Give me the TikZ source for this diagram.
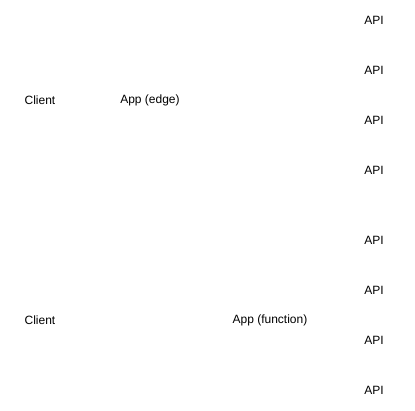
\documentclass[tikz,border=0pt]{standalone}
\usepackage{fontspec}
\setmainfont{Liberation Sans}
\begin{document}
\begin{tikzpicture}[x=1pt,y=-1pt,
  lbl/.style={inner sep=0pt, font=\fontsize{12}{14}\selectfont}]
\useasboundingbox (0,0) rectangle (415,411);
% edge deployment
\node[lbl] (client1) at (40,100) {Client};
\node[lbl] (appedge) at (150,100) {App (edge)};
\node[lbl] (api1) at (374,20) {API};
\node[lbl] (api2) at (374,70) {API};
\node[lbl] (api3) at (374,120) {API};
\node[lbl] (api4) at (374,170) {API};
% function deployment
\node[lbl] (client2) at (40,320) {Client};
\node[lbl] (appfn) at (270,320) {App (function)};
\node[lbl] (api5) at (374,240) {API};
\node[lbl] (api6) at (374,290) {API};
\node[lbl] (api7) at (374,340) {API};
\node[lbl] (api8) at (374,390) {API};
\end{tikzpicture}
\end{document}
